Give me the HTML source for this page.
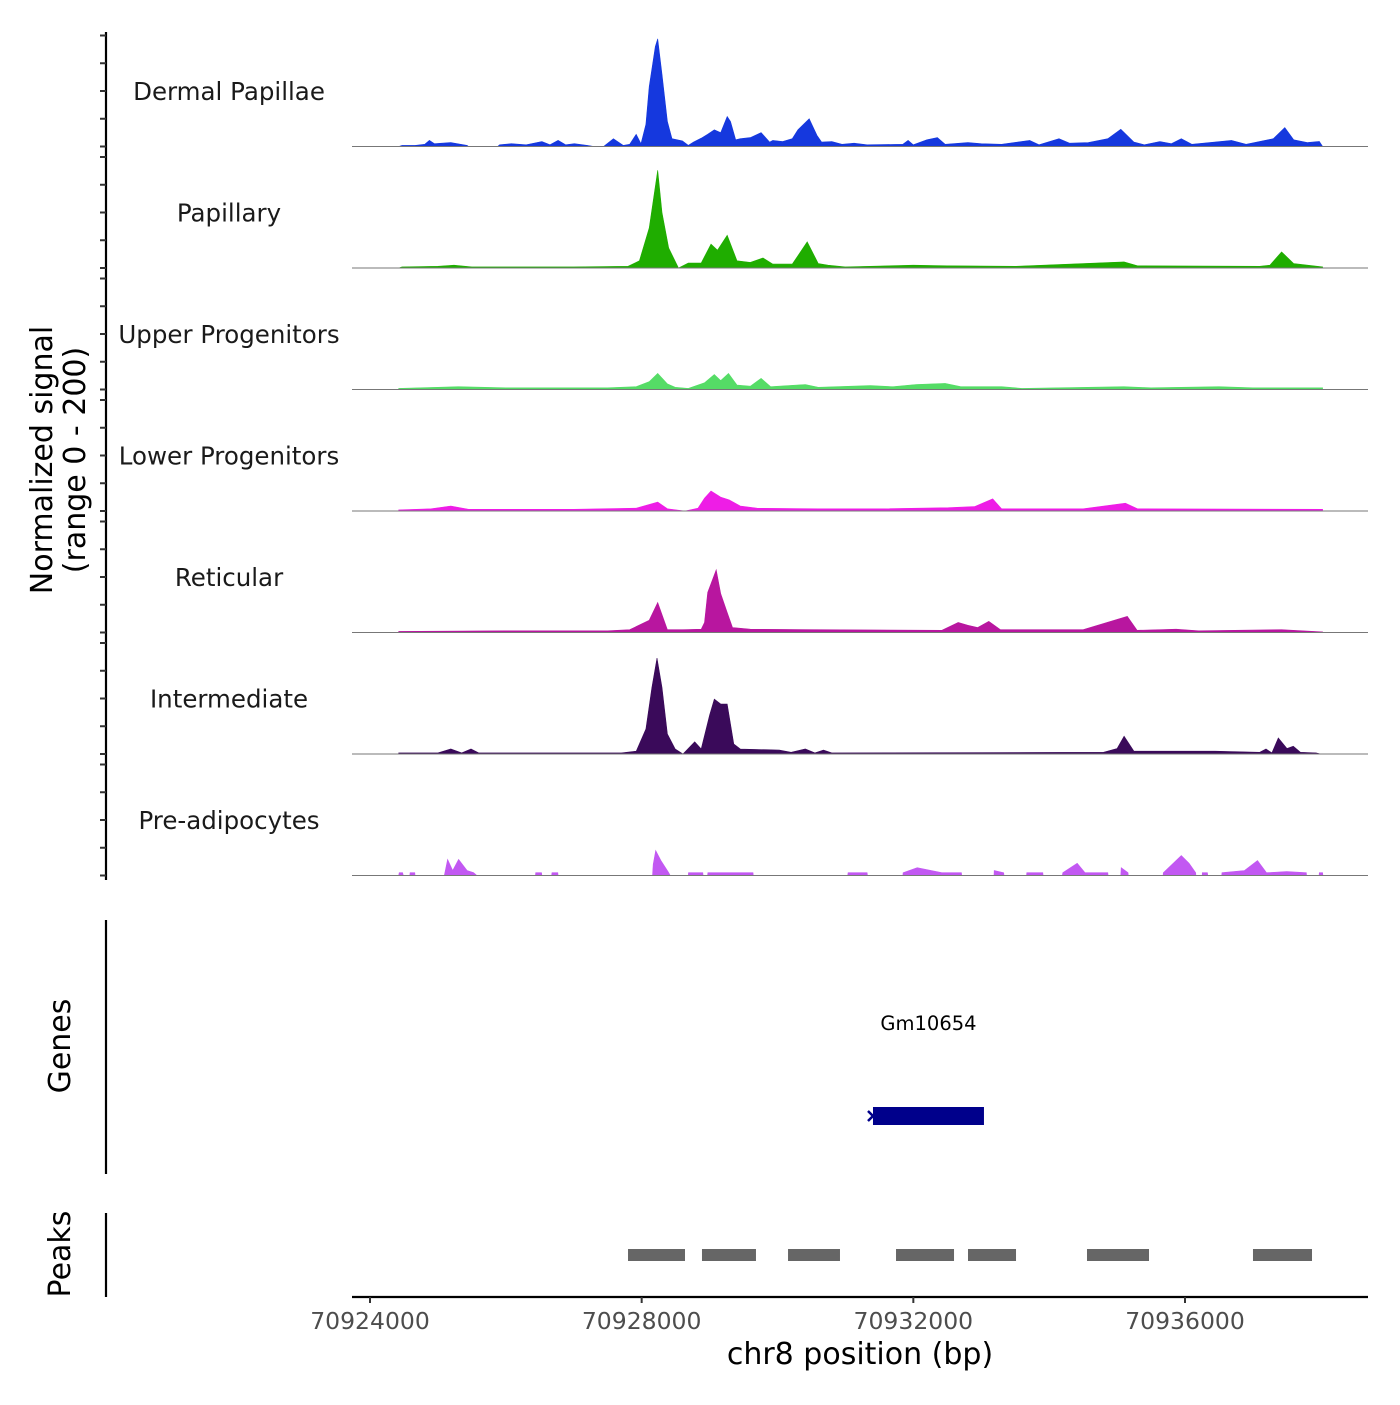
<!DOCTYPE html>
<html><head><meta charset="utf-8"><style>
body{margin:0;background:#fff}
svg text{font-family:"DejaVu Sans","Liberation Sans",sans-serif}
</style></head><body>
<svg id="chart" width="1400" height="1400" viewBox="0 0 1400 1400" xmlns="http://www.w3.org/2000/svg"></svg>
<script>
const trackNames = ["Dermal Papillae","Papillary","Upper Progenitors","Lower Progenitors","Reticular","Intermediate","Pre-adipocytes"];
const trackColors = ["#1538de","#1fad00","#55dc66","#ee1de6","#b8169f","#3a0a5a","#c258f2"];
const dermalPapillae = [[70924423,0],[70924471,2],[70924663,2],[70924806,4],[70924874,11],[70924950,5],[70925190,7],[70925429,2],[70925450,0],[70925880,0],[70925908,3],[70926080,5],[70926300,3],[70926531,9],[70926650,3],[70926770,11],[70926880,3],[70927009,5],[70927201,2],[70927300,0],[70927440,0],[70927584,14],[70927728,2],[70927824,4],[70927919,22],[70927990,5],[70928063,40],[70928111,108],[70928200,180],[70928236,194],[70928300,130],[70928379,45],[70928446,14],[70928600,10],[70928686,2],[70928762,8],[70928877,15],[70928973,22],[70929069,30],[70929164,25],[70929260,54],[70929308,45],[70929385,12],[70929452,14],[70929600,16],[70929759,25],[70929883,8],[70929931,11],[70930075,9],[70930218,14],[70930300,30],[70930467,50],[70930582,20],[70930650,8],[70930800,9],[70930950,4],[70931128,6],[70931320,3],[70931846,4],[70931923,11],[70932000,3],[70932200,12],[70932354,16],[70932469,4],[70932804,7],[70933000,5],[70933300,4],[70933714,11],[70933850,3],[70934145,14],[70934300,6],[70934576,7],[70934863,14],[70935055,31],[70935247,8],[70935400,3],[70935630,9],[70935800,5],[70935946,14],[70936100,4],[70936684,11],[70936900,4],[70937300,14],[70937470,34],[70937600,12],[70937800,7],[70937978,9],[70938026,0]];
const papillary = [[70924423,0],[70924471,2],[70925000,3],[70925237,5],[70925500,2],[70927000,2],[70927800,3],[70927967,13],[70928111,72],[70928236,176],[70928300,100],[70928398,36],[70928542,0],[70928686,9],[70928877,9],[70929021,43],[70929116,32],[70929260,59],[70929404,13],[70929600,10],[70929787,18],[70929931,7],[70930218,7],[70930438,47],[70930600,8],[70930745,5],[70931000,2],[70932000,5],[70932500,4],[70933500,3],[70935103,11],[70935300,4],[70937100,3],[70937250,5],[70937422,29],[70937600,8],[70938026,2]];
const upperProgenitors = [[70924423,2],[70925000,4],[70925300,5],[70926000,3],[70927500,3],[70927919,5],[70928111,14],[70928236,29],[70928379,10],[70928494,4],[70928686,2],[70928925,12],[70929069,27],[70929164,16],[70929279,29],[70929404,8],[70929600,6],[70929759,20],[70929900,5],[70930410,9],[70930600,4],[70931367,7],[70931700,5],[70932038,9],[70932469,11],[70932700,5],[70933300,5],[70933600,2],[70935100,5],[70935500,3],[70936500,5],[70937000,3],[70938026,3]];
const lowerProgenitors = [[70924423,2],[70924900,4],[70925190,9],[70925450,3],[70927000,3],[70927919,5],[70928236,16],[70928379,4],[70928637,0],[70928829,5],[70928925,23],[70929021,36],[70929164,25],[70929289,20],[70929452,9],[70929700,5],[70930600,4],[70931500,4],[70932517,6],[70932900,8],[70933168,22],[70933300,4],[70934500,4],[70935122,14],[70935300,4],[70938026,3]];
const reticular = [[70924423,2],[70926000,3],[70927500,3],[70927824,5],[70928111,22],[70928236,54],[70928379,5],[70928600,5],[70928877,6],[70928925,18],[70928973,72],[70929097,113],[70929164,70],[70929260,36],[70929337,9],[70929600,6],[70930600,5],[70932421,4],[70932661,18],[70932804,13],[70932948,9],[70933111,20],[70933283,5],[70934300,5],[70934500,5],[70935151,29],[70935295,4],[70935869,6],[70936200,3],[70937422,5],[70938026,1]];
const intermediate = [[70924423,2],[70925000,2],[70925190,9],[70925350,2],[70925487,9],[70925600,2],[70927700,2],[70927919,5],[70928063,45],[70928150,120],[70928226,173],[70928300,120],[70928379,36],[70928494,9],[70928609,0],[70928781,22],[70928877,9],[70929000,70],[70929069,99],[70929164,90],[70929260,90],[70929356,18],[70929452,9],[70930027,7],[70930200,3],[70930410,9],[70930550,2],[70930678,7],[70930800,2],[70934800,3],[70935000,10],[70935103,32],[70935247,5],[70936444,5],[70937100,3],[70937192,9],[70937280,2],[70937374,29],[70937500,10],[70937594,14],[70937700,3],[70937930,2],[70938000,0]];
const preAdipocytes = [[70924423,0],[70924430,5],[70924480,5],[70924490,0],[70924586,0],[70924590,5],[70924660,5],[70924663,0],[70925094,0],[70925142,29],[70925218,9],[70925305,29],[70925429,9],[70925525,5],[70925573,0],[70926435,0],[70926440,5],[70926525,5],[70926531,0],[70926674,0],[70926680,5],[70926765,5],[70926770,0],[70928160,0],[70928170,20],[70928207,45],[70928283,27],[70928398,5],[70928420,0],[70928686,0],[70928690,5],[70928900,5],[70928905,0],[70928970,0],[70928975,5],[70929640,5],[70929644,0],[70931033,0],[70931040,5],[70931320,5],[70931325,0],[70931846,0],[70931850,5],[70932057,14],[70932420,5],[70932708,5],[70932712,0],[70933187,0],[70933190,9],[70933331,5],[70933335,0],[70933666,0],[70933670,5],[70933906,5],[70933910,0],[70934193,0],[70934200,5],[70934413,22],[70934528,5],[70934863,5],[70934867,0],[70935055,0],[70935060,14],[70935160,5],[70935165,0],[70935678,0],[70935680,5],[70935946,36],[70936061,22],[70936157,5],[70936160,0],[70936253,0],[70936255,5],[70936330,5],[70936335,0],[70936540,0],[70936545,5],[70936876,9],[70937068,27],[70937200,5],[70937498,7],[70937786,5],[70937790,0],[70937975,0],[70937978,5],[70938026,5],[70938030,0]];
const trackSeries = [dermalPapillae,papillary,upperProgenitors,lowerProgenitors,reticular,intermediate,preAdipocytes];
const xTicks = [70924000,70928000,70932000,70936000];
const yTickValues = [0,50,100,150,200];
const peakStarts = [70927799,70928888,70930155,70931745,70932805,70934557,70937001];
const peakEnds = [70928638,70929683,70930920,70932599,70933512,70935470,70937870];
const geneName = "Gm10654";
const geneStart = 70931406, geneEnd = 70933040;

const NS="http://www.w3.org/2000/svg";
const svg=document.getElementById('chart');
function mk(tag,attrs,parent){const e=document.createElementNS(NS,tag);for(const k in attrs)e.setAttribute(k,attrs[k]);(parent||svg).appendChild(e);return e;}
const X=bp=>370+(bp-70924000)*(815/12000);
const trackTop=25, trackH=121.5;
const baseY=i=>trackTop+trackH*(i+1);
const Y=(i,v)=>baseY(i)-v*(111/200);

let ax=mk('line',{x1:106,y1:32,x2:106,y2:880,stroke:'#000','stroke-width':2.2});


for(let i=0;i<7;i++){
  yTickValues.forEach(v=>{
    const y=Y(i,v);
    let t=mk('line',{x1:100,y1:y,x2:106,y2:y,stroke:'#333','stroke-width':2});
    
    
  });
}
trackSeries.forEach((s,i)=>{
  const b=baseY(i);
  let d='M'+X(s[0][0]).toFixed(1)+','+b;
  s.forEach(p=>{d+=' L'+X(p[0]).toFixed(1)+','+Y(i,p[1]).toFixed(1);});
  d+=' L'+X(s[s.length-1][0]).toFixed(1)+','+b+' Z';
  let a=mk('path',{d:d,fill:trackColors[i],stroke:trackColors[i],'stroke-width':0.6});
  
  
  let bl=mk('line',{x1:352,y1:b,x2:1368,y2:b,stroke:'#777','stroke-width':1});
  
  
  let tx=mk('text',{x:229,y:trackTop+trackH*i+75,'font-size':24.5,fill:'#1a1a1a','text-anchor':'middle'});
  tx.textContent=trackNames[i];
  
  
});
let yt=mk('text',{transform:'translate(52,460) rotate(-90)','font-size':30,'text-anchor':'middle',fill:'#000'});


let ts1=mk('tspan',{x:0,dy:0},yt);ts1.textContent='Normalized signal';
let ts2=mk('tspan',{x:0,dy:33},yt);ts2.textContent='(range 0 - 200)';

let ga=mk('line',{x1:106,y1:920,x2:106,y2:1174,stroke:'#000','stroke-width':2.2});


let gt=mk('text',{transform:'translate(70,1046) rotate(-90)','font-size':30,'text-anchor':'middle',fill:'#000'});
gt.textContent='Genes';


let gl=mk('text',{x:(X(geneStart)+X(geneEnd))/2,y:1030,'font-size':19.5,'text-anchor':'middle',fill:'#000'});
gl.textContent=geneName;


let gb=mk('rect',{x:X(geneStart),y:1107,width:X(geneEnd)-X(geneStart),height:18,fill:'#00008b'});


let gc=mk('path',{d:`M${X(geneStart)-5},1111 L${X(geneStart)},1116 L${X(geneStart)-5},1121`,fill:'none',stroke:'#00008b','stroke-width':2.5});



let pa=mk('line',{x1:106,y1:1213,x2:106,y2:1297,stroke:'#000','stroke-width':2.2});


let pt=mk('text',{transform:'translate(70,1254) rotate(-90)','font-size':30,'text-anchor':'middle',fill:'#000'});
pt.textContent='Peaks';


peakStarts.forEach((s,i)=>{
  let r=mk('rect',{x:X(s),y:1249,width:X(peakEnds[i])-X(s),height:12,fill:'#666'});
  
  
});

let xa=mk('line',{x1:352,y1:1297,x2:1368,y2:1297,stroke:'#000','stroke-width':2.2});


xTicks.forEach(v=>{
  let t=mk('line',{x1:X(v),y1:1297,x2:X(v),y2:1303,stroke:'#333','stroke-width':2});
  
  
  let l=mk('text',{x:X(v),y:1329,'font-size':23.5,'text-anchor':'middle',fill:'#4d4d4d'});
  l.textContent=String(v);
  
  
});
let xt=mk('text',{x:860,y:1364,'font-size':30,'text-anchor':'middle',fill:'#000'});
xt.textContent='chr8 position (bp)';


</script>
</body></html>
